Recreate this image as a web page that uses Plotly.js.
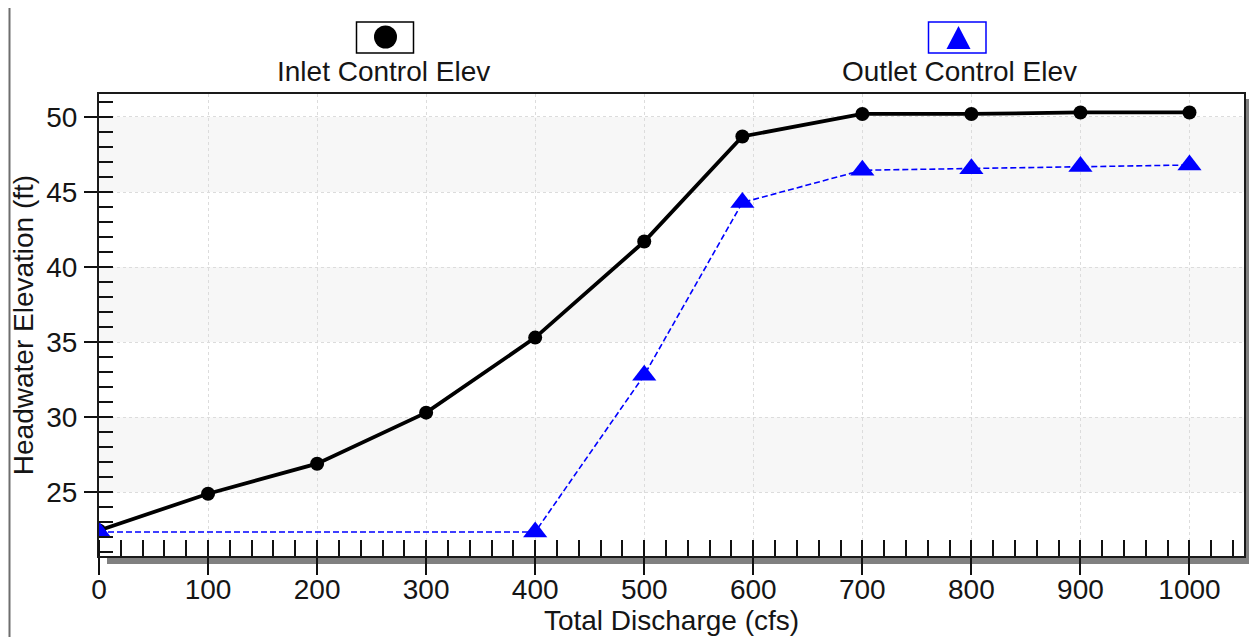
<!DOCTYPE html>
<html>
<head>
<meta charset="utf-8">
<script src="https://cdn.plot.ly/plotly-3.0.1.min.js"></script>
<style>
  html, body { margin: 0; padding: 0; background: #ffffff; }
  #chart { width: 1249px; height: 637px; }
</style>
</head>
<body>
<div id="chart"></div>
<script>
// ---- data ----
const seriesNames = ["Inlet Control Elev", "Outlet Control Elev"];
const inletDischarge = [0, 100, 200, 300, 400, 500, 590, 700, 800, 900, 1000];
const inletElev      = [22.45, 24.9, 26.9, 30.3, 35.3, 41.7, 48.7, 50.2, 50.2, 50.3, 50.3];
const outletDischarge = [0, 400, 500, 590, 700, 800, 900, 1000];
const outletElev      = [22.35, 22.35, 32.8, 44.3, 46.45, 46.55, 46.7, 46.8];
const bandStarts = [25, 35, 45];   // shaded horizontal bands (5 units tall)
const xTitle = "Total Discharge (cfs)";
const yTitle = "Headwater Elevation (ft)";

// ---- layout geometry (pixels) ----
const W = 1249, H = 637;
const M = { l: 99, r: 5, t: 94, b: 81 };
const PW = W - M.l - M.r, PH = H - M.t - M.b;
const px = x => (x - M.l) / PW;          // pixel x -> paper x
const py = y => (H - M.b - y) / PH;      // pixel y -> paper y

const FONT = "Liberation Sans, Arial, Helvetica, sans-serif";
const TXT = "#151515";

const traces = [
  {
    x: inletDischarge, y: inletElev, name: seriesNames[0],
    type: "scatter", mode: "lines+markers",
    line: { color: "#000000", width: 3.8 },
    marker: { symbol: "circle", size: 14, color: "#000000" }
  },
  {
    x: outletDischarge, y: outletElev, name: seriesNames[1],
    type: "scatter", mode: "lines+markers",
    line: { color: "#0000ff", width: 1.6, dash: "6px,3px" },
    marker: { symbol: "triangle-up", size: 21, color: "#0000ff" }
  }
];

const shapes = [];
// alternating gray bands
bandStarts.forEach(b => shapes.push({
  type: "rect", xref: "paper", yref: "y", x0: 0, x1: 1, y0: b, y1: b + 5,
  fillcolor: "#f7f7f7", line: { width: 0 }, layer: "below"
}));
// drop shadow of frame (bottom and right)
shapes.push({ type: "rect", xref: "paper", yref: "paper",
  x0: px(107), x1: px(1249), y0: py(564), y1: py(557),
  fillcolor: "#808080", line: { width: 0 }, layer: "below" });
shapes.push({ type: "rect", xref: "paper", yref: "paper",
  x0: px(1245), x1: px(1249), y0: py(564), y1: py(99),
  fillcolor: "#808080", line: { width: 0 }, layer: "below" });
// window edge line at far left
shapes.push({ type: "line", xref: "paper", yref: "paper",
  x0: px(9.5), x1: px(9.5), y0: py(8), y1: py(637),
  line: { color: "#6e6e6e", width: 2 } });
// legend boxes
shapes.push({ type: "rect", xref: "paper", yref: "paper",
  x0: px(356.5), x1: px(413.5), y0: py(53), y1: py(22),
  line: { color: "#000000", width: 1.5 }, fillcolor: "rgba(0,0,0,0)" });
shapes.push({ type: "rect", xref: "paper", yref: "paper",
  x0: px(928.5), x1: px(986), y0: py(53), y1: py(22),
  line: { color: "#0000ff", width: 1.5 }, fillcolor: "rgba(0,0,0,0)" });
// legend symbols
shapes.push({ type: "circle", xref: "paper", yref: "paper",
  x0: px(374), x1: px(397), y0: py(48.5), y1: py(25.5),
  line: { color: "#000000", width: 0 }, fillcolor: "#000000" });
shapes.push({ type: "path", xref: "paper", yref: "paper",
  path: "M " + px(946.5) + "," + py(49) + " L " + px(970.5) + "," + py(49) +
        " L " + px(958.5) + "," + py(26) + " Z",
  line: { color: "#0000ff", width: 0 }, fillcolor: "#0000ff" });

const annotations = [
  { text: seriesNames[0], xref: "paper", yref: "paper", x: px(383.5), y: py(71),
    xanchor: "center", yanchor: "middle", showarrow: false,
    font: { family: FONT, size: 28, color: TXT } },
  { text: seriesNames[1], xref: "paper", yref: "paper", x: px(959), y: py(71),
    xanchor: "center", yanchor: "middle", showarrow: false,
    font: { family: FONT, size: 28, color: TXT } }
];

const layout = {
  width: W, height: H,
  margin: M,
  paper_bgcolor: "#ffffff",
  plot_bgcolor: "#ffffff",
  showlegend: false,
  font: { family: FONT, size: 28, color: TXT },
  xaxis: {
    range: [0, 1050], tick0: 0, dtick: 100,
    ticks: "outside", ticklen: 17, tickwidth: 2, tickcolor: "#111111",
    showline: true, linecolor: "#1a1a1a", linewidth: 2, mirror: true,
    showgrid: true, gridcolor: "#dcdcdc", gridwidth: 1, griddash: "dot",
    zeroline: false,
    tickfont: { family: FONT, size: 28, color: TXT },
    ticklabelstandoff: -10,
    minor: { dtick: 20, ticks: "inside", ticklen: 16, tickwidth: 2, tickcolor: "#111111", showgrid: false },
    title: { text: xTitle, font: { family: FONT, size: 28, color: TXT }, standoff: 0 }
  },
  yaxis: {
    range: [20.75, 51.53], tick0: 0, dtick: 5,
    ticks: "outside", ticklen: 13, tickwidth: 2, tickcolor: "#111111",
    showline: true, linecolor: "#1a1a1a", linewidth: 2, mirror: true,
    showgrid: true, gridcolor: "#dcdcdc", gridwidth: 1, griddash: "dot",
    zeroline: false,
    tickfont: { family: FONT, size: 28, color: TXT },
    ticklabelstandoff: 1,
    minor: { dtick: 1, ticks: "inside", ticklen: 14, tickwidth: 2, tickcolor: "#111111", showgrid: false },
    title: { text: yTitle, font: { family: FONT, size: 28, color: TXT }, standoff: 4 }
  },
  shapes: shapes,
  annotations: annotations
};

Plotly.newPlot("chart", traces, layout, { displayModeBar: false, staticPlot: true });
</script>
</body>
</html>
